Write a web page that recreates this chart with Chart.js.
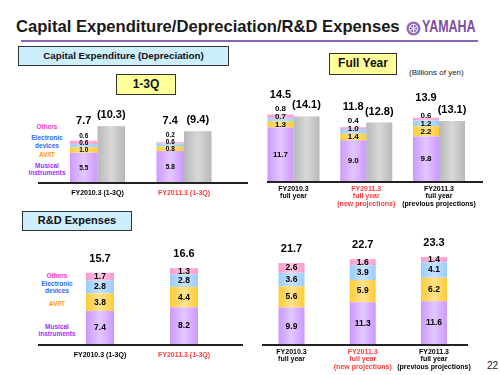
<!DOCTYPE html>
<html lang="en">
<head>
<meta charset="UTF-8">
<title>Capital Expenditure/Depreciation/R&amp;D Expenses</title>
<script src="https://cdn.jsdelivr.net/npm/chart.js"></script>
<style>
    body { margin: 0; width: 500px; height: 375px; position: relative; overflow: hidden; background: #fff;
           font-family: Arial, "Liberation Sans", sans-serif; }
    .abs { position: absolute; }
    canvas { position: absolute; }
    .title { left: 16px; top: 17px; font-size: 16.6px; font-weight: bold; color: #1a1a1a; line-height: 20px; white-space: nowrap; }
    .rule { left: 21px; top: 40px; width: 457px; height: 2px; background: #8c64b4; }
    .box { border: 1.5px solid #333; box-sizing: border-box; font-weight: bold; text-align: center; color: #111; }
    .blue { background: #cdeefd; }
    .yellow { background: #ffff99; }
    .lg { width: 60px; text-align: center; font-size: 6.5px; font-weight: bold; line-height: 7.5px; }
</style>
</head>
<body>
    <div class="abs title">Capital Expenditure/Depreciation/R&amp;D Expenses</div>
    <div class="abs" style="left:406px;top:21px;">
        <svg width="15" height="15" viewBox="0 0 15 15">
            <circle cx="7.5" cy="7.5" r="7" fill="#8f6bb8"/>
            <circle cx="7.5" cy="7.5" r="4.2" fill="none" stroke="#fff" stroke-width="0.9"/>
            <path d="M7.5 3.3 V11.7 M3.9 5.4 L11.1 9.6 M3.9 9.6 L11.1 5.4" stroke="#fff" stroke-width="0.9"/>
        </svg>
    </div>
    <div class="abs" style="left:422px;top:18px;font-size:16px;font-weight:bold;color:#7d4fa0;transform:scaleX(0.78);transform-origin:left;">YAMAHA</div>
    <div class="abs rule"></div>

    <div class="abs box blue" style="left:18px;top:46px;width:211px;height:20px;font-size:9.8px;line-height:17px;">Capital Expenditure (Depreciation)</div>
    <div class="abs box yellow" style="left:329px;top:53px;width:68px;height:22px;font-size:12px;line-height:19px;">Full Year</div>
    <div class="abs box yellow" style="left:116px;top:74px;width:60px;height:21px;font-size:12px;line-height:18px;">1-3Q</div>
    <div class="abs" style="left:409px;top:68px;font-size:8px;color:#222;">(Billions of yen)</div>
    <div class="abs box blue" style="left:22px;top:211px;width:110px;height:20px;font-size:11px;line-height:17px;">R&amp;D Expenses</div>
    <div class="abs" style="left:487px;top:360px;font-size:10px;color:#222;">22</div>

    <div class="abs lg" style="left:17px;top:123px;color:#ff33cc;">Others</div>
    <div class="abs lg" style="left:17px;top:134px;color:#3366ff;line-height:8px;">Electronic<br>devices</div>
    <div class="abs lg" style="left:17px;top:151px;color:#ff9900;">AV/IT</div>
    <div class="abs lg" style="left:17px;top:162px;color:#9933ff;line-height:7px;">Musical<br>instruments</div>

    <div class="abs lg" style="left:27px;top:272px;color:#ff33cc;">Others</div>
    <div class="abs lg" style="left:27px;top:280px;color:#3366ff;line-height:7px;">Electronic<br>devices</div>
    <div class="abs lg" style="left:27px;top:300px;color:#ff9900;">AV/IT</div>
    <div class="abs lg" style="left:27px;top:323px;color:#9933ff;line-height:7px;">Musical<br>instruments</div>

    <canvas id="capexQ" width="220" height="110" style="left:30px;top:95px;"></canvas>
    <canvas id="capexFy" width="240" height="135" style="left:250px;top:80px;"></canvas>
    <canvas id="rdQ" width="220" height="135" style="left:30px;top:235px;"></canvas>
    <canvas id="rdFy" width="240" height="145" style="left:250px;top:230px;"></canvas>

    <script>
        // category labels
        const qLabels = [['FY2010.3 (1-3Q)'], ['FY2011.3 (1-3Q)']];
        const qLabelColors = ['#000', '#ff3b3b'];
        const fyLabels = [
            ['FY2010.3', 'full year'],
            ['FY2011.3', 'full year', '(new projections)'],
            ['FY2011.3', 'full year', '(previous projections)']
        ];
        const fyLabelColors = ['#000', '#ff3b3b', '#000'];

        // capital expenditure, 1-3Q (billions of yen)
        const capexQMusical = [5.5, 5.8];
        const capexQAvIt = [1.0, 0.8];
        const capexQElectronic = [0.6, 0.6];
        const capexQOthers = [0.6, 0.2];
        const capexQTotal = [7.7, 7.4];
        const deprQ = [10.3, 9.4];

        // capital expenditure, full year
        const capexFyMusical = [11.7, 9.0, 9.8];
        const capexFyAvIt = [1.3, 1.4, 2.2];
        const capexFyElectronic = [0.7, 1.0, 1.2];
        const capexFyOthers = [0.8, 0.4, 0.6];
        const capexFyTotal = [14.5, 11.8, 13.9];
        const deprFy = [14.1, 12.8, 13.1];

        // R&D expenses, 1-3Q
        const rdQMusical = [7.4, 8.2];
        const rdQAvIt = [3.8, 4.4];
        const rdQElectronic = [2.8, 2.8];
        const rdQOthers = [1.7, 1.3];
        const rdQTotal = [15.7, 16.6];

        // R&D expenses, full year
        const rdFyMusical = [9.9, 11.3, 11.6];
        const rdFyAvIt = [5.6, 5.9, 6.2];
        const rdFyElectronic = [3.6, 3.9, 4.1];
        const rdFyOthers = [2.6, 1.6, 1.4];
        const rdFyTotal = [21.7, 22.7, 23.3];

        const segColors = ['#cc99ff', '#ffcc33', '#99ccff', '#ff99cc'];
        const FONT = 'Arial, "Liberation Sans", sans-serif';

        function makeChart(id, cfg) {
            const canvas = document.getElementById(id);
            const names = ['Musical instruments', 'AV/IT', 'Electronic devices', 'Others'];
            const datasets = cfg.series.map((d, i) => ({
                label: names[i], data: d, backgroundColor: segColors[i], stack: 'main', borderWidth: 0
            }));
            if (cfg.depr) {
                datasets.push({ label: 'Depreciation', data: cfg.depr, backgroundColor: '#b8b8b8', stack: 'depr', borderWidth: 0 });
            }
            const areaH = canvas.height - cfg.pad.top - cfg.pad.bottom;

            const deco = {
                id: 'deco',
                afterDatasetsDraw(chart) {
                    const ctx = chart.ctx;
                    const yBase = chart.scales.y.getPixelForValue(0);
                    ctx.save();
                    // soft highlight down the middle of every bar
                    chart.data.datasets.forEach((ds, i) => {
                        chart.getDatasetMeta(i).data.forEach(el => {
                            const w = el.width, x0 = el.x - w / 2;
                            const top = Math.min(el.y, el.base), h = Math.abs(el.base - el.y);
                            const g = ctx.createLinearGradient(x0, 0, x0 + w, 0);
                            g.addColorStop(0, 'rgba(255,255,255,0)');
                            g.addColorStop(0.5, 'rgba(255,255,255,0.45)');
                            g.addColorStop(1, 'rgba(255,255,255,0)');
                            ctx.fillStyle = g;
                            ctx.fillRect(x0, top, w, h);
                        });
                    });
                    // baseline
                    ctx.strokeStyle = '#222';
                    ctx.lineWidth = 2;
                    ctx.beginPath();
                    ctx.moveTo(cfg.line[0], yBase);
                    ctx.lineTo(cfg.line[1], yBase);
                    ctx.stroke();

                    ctx.textAlign = 'center';
                    ctx.textBaseline = 'middle';
                    ctx.fillStyle = '#000';
                    const n = cfg.labels.length;
                    for (let j = 0; j < n; j++) {
                        // segment values, pushed up when segments are thin
                        ctx.font = 'bold ' + cfg.segFont + 'px ' + FONT;
                        let prevY = Infinity, x = 0;
                        cfg.series.forEach((d, i) => {
                            const el = chart.getDatasetMeta(i).data[j];
                            const y = Math.min((el.y + el.base) / 2, prevY - cfg.segStep);
                            ctx.fillText(d[j].toFixed(1), el.x, y);
                            prevY = y;
                            x = el.x;
                        });
                        const topEl = chart.getDatasetMeta(cfg.series.length - 1).data[j];
                        ctx.font = 'bold 11px ' + FONT;
                        ctx.fillText(cfg.totals[j].toFixed(1), x,
                            Math.min(topEl.y - cfg.totalGap, prevY - cfg.totalMin));
                        if (cfg.depr) {
                            const d = chart.getDatasetMeta(cfg.series.length).data[j];
                            ctx.fillText('(' + cfg.depr[j].toFixed(1) + ')', d.x, d.y - 11);
                        }
                        // category labels
                        ctx.font = 'bold 7px ' + FONT;
                        ctx.fillStyle = cfg.labelColors[j];
                        const cx = chart.scales.x.getPixelForValue(j);
                        cfg.labels[j].forEach((t, k) => {
                            ctx.fillText(t, cx, yBase + cfg.tickTop + k * cfg.tickStep);
                        });
                        ctx.fillStyle = '#000';
                    }
                    ctx.restore();
                }
            };

            return new Chart(canvas, {
                type: 'bar',
                data: { labels: cfg.labels.map(l => l.join(' ')), datasets: datasets },
                options: {
                    responsive: false,
                    animation: false,
                    layout: { padding: cfg.pad },
                    categoryPercentage: cfg.catPct,
                    barPercentage: 1,
                    plugins: { legend: { display: false }, tooltip: { enabled: false } },
                    scales: {
                        x: { display: false, stacked: true },
                        y: { display: false, stacked: true, min: 0, max: areaH / cfg.ppu }
                    }
                },
                plugins: [deco]
            });
        }

        makeChart('capexQ', {
            labels: qLabels, labelColors: qLabelColors,
            series: [capexQMusical, capexQAvIt, capexQElectronic, capexQOthers],
            totals: capexQTotal, depr: deprQ,
            pad: { left: 24.25, right: 22.75, top: 0, bottom: 22 }, ppu: 5.5, catPct: 0.636,
            line: [8, 218], tickTop: 10, tickStep: 7.5,
            segFont: 6.5, segStep: 7, totalGap: 20, totalMin: 14
        });

        makeChart('capexFy', {
            labels: fyLabels, labelColors: fyLabelColors,
            series: [capexFyMusical, capexFyAvIt, capexFyElectronic, capexFyOthers],
            totals: capexFyTotal, depr: deprFy,
            pad: { left: 7.1, right: 14.6, top: 0, bottom: 33 }, ppu: 4.65, catPct: 0.715,
            line: [17, 233], tickTop: 7, tickStep: 7.5,
            segFont: 8, segStep: 8, totalGap: 20, totalMin: 11
        });

        makeChart('rdQ', {
            labels: qLabels, labelColors: qLabelColors,
            series: [rdQMusical, rdQAvIt, rdQElectronic, rdQOthers],
            totals: rdQTotal,
            pad: { left: 28, right: 24, top: 0, bottom: 25 }, ppu: 4.6, catPct: 0.333,
            line: [8, 213], tickTop: 10, tickStep: 7.5,
            segFont: 8.5, segStep: 9, totalGap: 14, totalMin: 14
        });

        makeChart('rdFy', {
            labels: fyLabels, labelColors: fyLabelColors,
            series: [rdFyMusical, rdFyAvIt, rdFyElectronic, rdFyOthers],
            totals: rdFyTotal,
            pad: { left: 5.9, right: 20.4, top: 0, bottom: 30 }, ppu: 3.78, catPct: 0.365,
            line: [12, 218], tickTop: 7, tickStep: 7.3,
            segFont: 8.5, segStep: 9, totalGap: 14, totalMin: 14
        });
    </script>
</body>
</html>
